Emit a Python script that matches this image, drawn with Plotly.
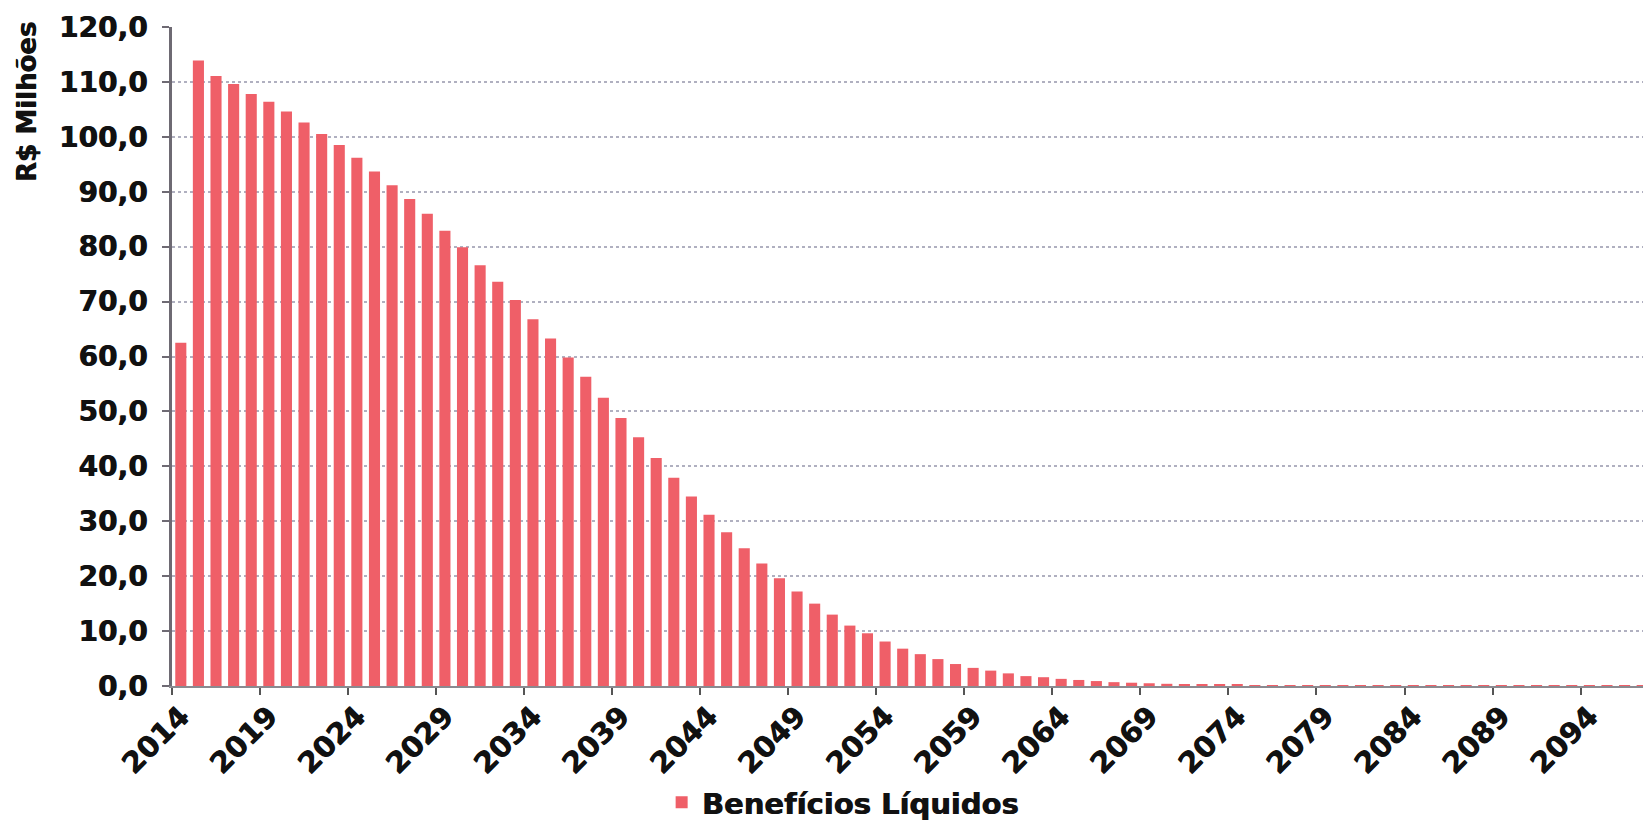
import plotly.graph_objects as go

years = [str(y) for y in range(2014, 2098)]
beneficios = [
    62.5, 113.9, 111.1, 109.6, 107.8, 106.4, 104.6, 102.6, 100.5, 98.5,
    96.2, 93.7, 91.2, 88.7, 86.0, 82.9, 79.9, 76.6, 73.6, 70.3,
    66.8, 63.3, 59.8, 56.3, 52.5, 48.8, 45.3, 41.5, 37.9, 34.5,
    31.2, 28.0, 25.1, 22.3, 19.6, 17.2, 15.0, 13.0, 11.0, 9.6,
    8.1, 6.8, 5.8, 4.9, 4.0, 3.3, 2.8, 2.3, 1.8, 1.6,
    1.3, 1.1, 0.9, 0.7, 0.6, 0.5, 0.4, 0.3, 0.25, 0.2,
    0.2, 0.18, 0.17, 0.16, 0.15, 0.15, 0.14, 0.14, 0.13, 0.13,
    0.13, 0.12, 0.12, 0.12, 0.11, 0.11, 0.11, 0.1, 0.1, 0.1,
    0.1, 0.1, 0.1, 0.1,
]
series_name = "Benefícios Líquidos"
y_title = "R$ Milhões"
y_ticks = [0, 10, 20, 30, 40, 50, 60, 70, 80, 90, 100, 110, 120]

FONT = "DejaVu Sans"
BAR_COLOR = "#EF5F68"
TXT = "#111111"
HEAVY = "0.8px 0px 0px #111111"

# the page body has an 8px default margin; the figure is sized to fit the window
W, H = 1643, 820

fig = go.Figure()
fig.add_trace(go.Bar(
    x=years, y=beneficios, name=series_name,
    marker=dict(color=BAR_COLOR, line=dict(width=0)),
    showlegend=True,
))

fig.update_layout(
    width=W, height=H,
    margin=dict(l=164, r=0, t=19, b=142),
    paper_bgcolor="white", plot_bgcolor="white",
    separators=",.",
    bargap=0.37,
    font=dict(family=FONT, color=TXT),
    showlegend=True,
    legend=dict(
        orientation="h", xref="container", yref="container",
        x=0.508, y=0.0, xanchor="center", yanchor="bottom",
        font=dict(family=FONT, size=29, weight="bold", color=TXT, shadow=HEAVY),
        itemwidth=30,
    ),
    annotations=[dict(
        text=y_title, xref="paper", yref="paper",
        x=-0.098, y=0.886, xanchor="center", yanchor="middle",
        textangle=-90, showarrow=False,
        font=dict(family=FONT, size=26, weight="bold", color=TXT, shadow=HEAVY),
    )],
)

fig.update_xaxes(
    type="category", tickmode="linear", tick0=0, dtick=5,
    tickson="boundaries", ticks="outside", ticklen=7, tickwidth=2,
    tickcolor="#555555", tickangle=-45,
    tickfont=dict(family=FONT, size=29, weight="bold", color=TXT, shadow=HEAVY),
    showline=True, linecolor="#8a8a90", linewidth=2,
    showgrid=False, range=[-0.5, len(years) - 0.5], automargin=False,
)
fig.update_yaxes(
    range=[0, 120], tickmode="array", tickvals=y_ticks, tickformat=".1f",
    ticks="outside", ticklen=7, tickwidth=2, tickcolor="#6e6a73",
    ticklabelstandoff=9,
    tickfont=dict(family=FONT, size=28, weight="bold", color=TXT, shadow=HEAVY),
    showline=True, linecolor="#6e6a73", linewidth=3,
    showgrid=True, gridcolor="#b0b0c0", griddash="dot", gridwidth=1.5,
    zeroline=False, automargin=False,
)

fig.write_html("out.html")
